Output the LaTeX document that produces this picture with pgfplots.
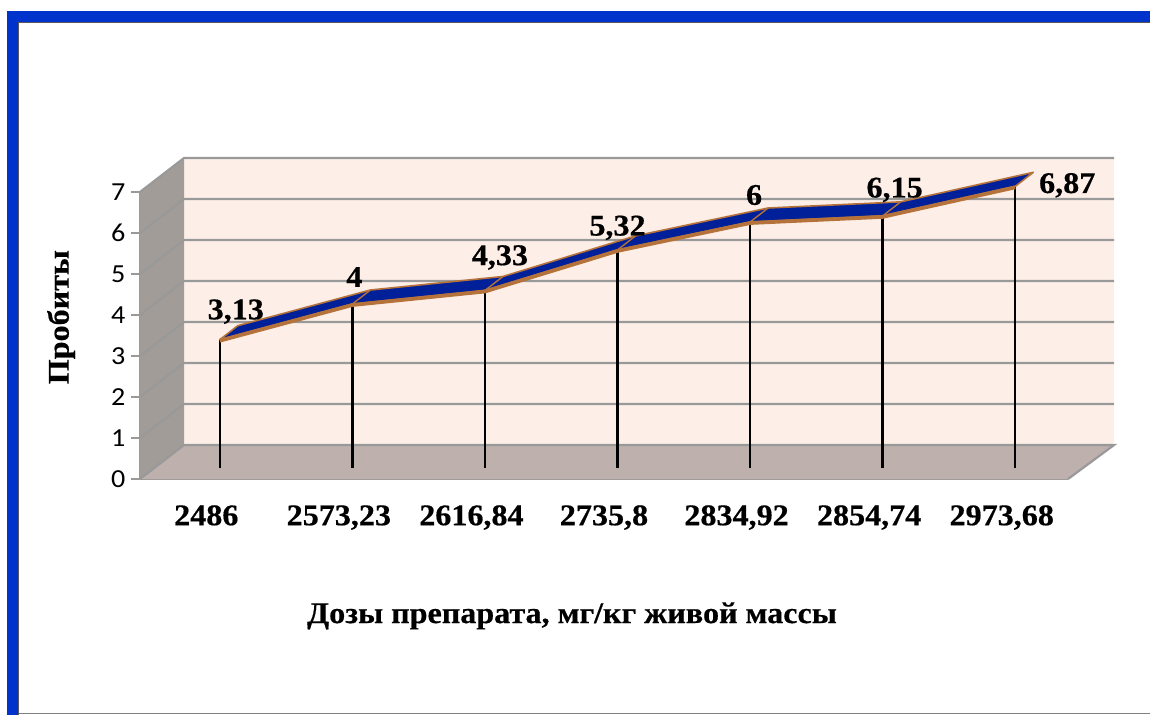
\documentclass[border=0pt]{standalone}
\usepackage{pgfplots}
\pgfplotsset{compat=1.18}
\usepackage{fontspec}
\setmainfont{Liberation Serif}
\newfontfamily\wideserif[FakeStretch=1.07,BoldFeatures={FakeStretch=1.07,FakeBold=0.5}]{Liberation Serif}
\newfontfamily\widesans[FakeStretch=1.08]{Carlito}
\definecolor{framebl}{HTML}{0033CC}
\definecolor{wallback}{HTML}{FDEFE8}
\definecolor{wallleft}{HTML}{A29C98}
\definecolor{wallfloor}{HTML}{BEB1AD}
\definecolor{gridc}{HTML}{999999}
\definecolor{ribbon}{HTML}{00209A}
\definecolor{rim}{HTML}{B5723A}
\begin{document}
\begin{tikzpicture}[x=1pt,y=1pt]
\path[use as bounding box] (-140,-236) rectangle (1010,479);
\fill[white] (-140,-236) rectangle (1010,479);
\fill[framebl] (-133,-236) rectangle (-122,468);
\fill[framebl] (-133,468) rectangle (1010,457);
\draw[color=black!65,line width=1.2pt] (-121.4,-236) -- (-121.4,456.4) -- (1010,456.4);
\draw[color=black!50,line width=1.2pt] (-121,-234.6) -- (1010,-234.6);
\begin{axis}[
  at={(0pt,0pt)}, anchor=south west,
  scale only axis, width=928pt, height=287pt,
  xmin=-0.5, xmax=6.5, ymin=0, ymax=7,
  clip=false,
  unbounded coords=jump,
  axis x line=bottom, axis y line=left,
  axis line style={draw=gridc,line width=2.2pt,-},
  xtick={0,1,2,3,4,5,6},
  xticklabels={2486,{2573,23},{2616,84},{2735,8},{2834,92},{2854,74},{2973,68}},
  x tick style={draw=none},
  ytick={0,1,2,3,4,5,6,7},
  y tick style={draw=gridc,line width=1.5pt},
  tick align=outside,
  major tick length=9pt,
  xticklabel style={font=\wideserif\bfseries\fontsize{30}{32}\selectfont,yshift=-18pt,anchor=north,text height=19pt,inner sep=0pt},
  yticklabel style={font=\widesans\fontsize{26}{28}\selectfont,xshift=-2pt},
  /pgf/number format/assume math mode=true,
  xlabel={Дозы препарата, мг/кг живой массы},
  xlabel style={font=\wideserif\bfseries\fontsize{30}{32}\selectfont,at={(axis description cs:0.4655,-0.477)},anchor=center},
  ylabel={Пробиты},
  ylabel style={font=\wideserif\bfseries\fontsize{30}{32}\selectfont,at={(axis description cs:-0.085,0.564)},anchor=center},
]
% back wall
\addplot[draw=none,fill=wallback] coordinates {(-0.168,0.829) (6.847,0.829) (6.847,7.829) (-0.168,7.829)} -- cycle;
% left wall
\addplot[draw=none,fill=wallleft] coordinates {(-0.5,0) (-0.168,0.829) (-0.168,7.829) (-0.5,7)} -- cycle;
% floor
\addplot[draw=none,fill=wallfloor] coordinates {(-0.5,0) (6.5,0) (6.847,0.829) (-0.168,0.829)} -- cycle;
% grid
\addplot[draw=gridc,line width=2.2pt] coordinates {
 (-0.5,0) (-0.168,0.829) (6.847,0.829) (6.5,0) (nan,nan)
 (-0.5,1) (-0.168,1.829) (6.847,1.829) (nan,nan)
 (-0.5,2) (-0.168,2.829) (6.847,2.829) (nan,nan)
 (-0.5,3) (-0.168,3.829) (6.847,3.829) (nan,nan)
 (-0.5,4) (-0.168,4.829) (6.847,4.829) (nan,nan)
 (-0.5,5) (-0.168,5.829) (6.847,5.829) (nan,nan)
 (-0.5,6) (-0.168,6.829) (6.847,6.829) (nan,nan)
 (-0.5,7) (-0.168,7.829) (6.847,7.829)
};
% drop lines
\addplot[ycomb,black,line width=2.4pt,mark=none,xshift=13.5pt,yshift=11pt] coordinates {(0,3.13) (1,4) (2,4.33) (3,5.32) (4,6) (5,6.15) (6,6.87)};
% ribbon top
\addplot[fill=ribbon,draw=rim,line width=1.6pt,line join=round] coordinates {
 (0.102,3.398) (1.102,4.268) (2.102,4.598) (3.102,5.588) (4.102,6.268) (5.102,6.418) (6.102,7.138)
 (6.238,7.48) (5.238,6.76) (4.238,6.61) (3.238,5.93) (2.238,4.94) (1.238,4.61) (0.238,3.74)} -- cycle;
\addplot[draw=rim,line width=1.4pt] coordinates {
 (1.102,4.268) (1.238,4.61) (nan,nan) (2.102,4.598) (2.238,4.94) (nan,nan) (3.102,5.588) (3.238,5.93) (nan,nan)
 (4.102,6.268) (4.238,6.61) (nan,nan) (5.102,6.418) (5.238,6.76)};
% front rim
\addplot[draw=rim,line width=3.8pt,line join=round,xshift=13.5pt,yshift=10pt] coordinates {(0,3.13) (1,4) (2,4.33) (3,5.32) (4,6) (5,6.15) (6,6.87)};
% data labels
\addplot[draw=none,mark=none,xshift=13.5pt,yshift=11pt,
  nodes near coords, point meta=explicit symbolic,
  visualization depends on={\thisrow{dx} \as \dx},
  visualization depends on={\thisrow{dy} \as \dy},
  every node near coord/.append style={font=\wideserif\bfseries\fontsize{30}{32}\selectfont,anchor=center,inner sep=0pt,xshift=\dx pt,yshift=\dy pt},
] table[x=x,y=y,meta=lab,row sep=crcr] {
x y dx dy lab\\
0 3.13 16 28 {3,13}\\
1 4 2 27 4\\
2 4.33 15 33 {4,33}\\
3 5.32 0 22 {5,32}\\
4 6 4 27 6\\
5 6.15 12 26 {6,15}\\
6 6.87 52 1 {6,87}\\
};
\end{axis}
\end{tikzpicture}
\end{document}
